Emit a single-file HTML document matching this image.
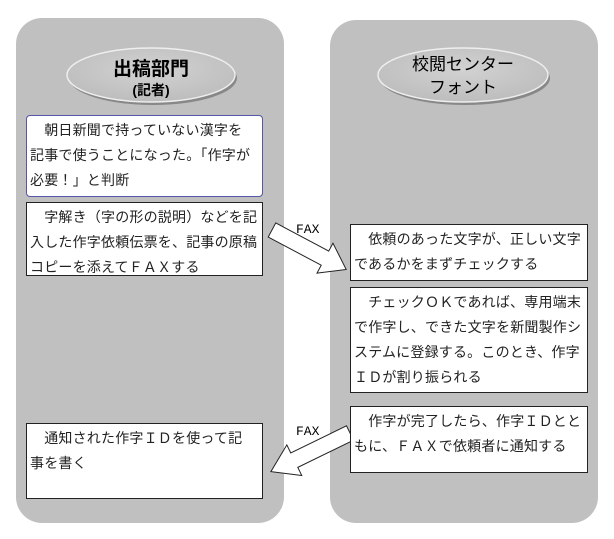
<!DOCTYPE html>
<html><head><meta charset="utf-8"><style>
body{margin:0;width:614px;height:539px;background:#fff;position:relative;overflow:hidden;font-family:"Liberation Sans","Noto Sans CJK JP",sans-serif;}
.panel{position:absolute;background:#c0c0c0;border-radius:26px;}
.box{position:absolute;background:#fff;border:1px solid #222;box-sizing:border-box;font-size:14px;line-height:25px;padding:2px 2px 2px 3px;color:#222;letter-spacing:0.2px;white-space:nowrap;}
.box p{margin:0;}
svg{position:absolute;left:0;top:0;}
</style></head><body>
<div class="panel" style="left:16px;top:18px;width:268px;height:505px"></div>
<div class="panel" style="left:330px;top:20px;width:268px;height:503px"></div>
<svg width="614" height="539">
<defs><radialGradient id="g" cx="50%" cy="40%" r="60%"><stop offset="0" stop-color="#d2d2d2"/><stop offset="1" stop-color="#bdbdbd"/></radialGradient></defs>
<ellipse cx="153" cy="78" rx="84" ry="27" fill="#888"/>
<ellipse cx="151" cy="75" rx="84" ry="27" fill="url(#g)" stroke="#eee" stroke-width="1.5"/>
<text x="151" y="75" text-anchor="middle" font-size="19" font-weight="bold" font-family="Liberation Sans,Noto Sans CJK JP,sans-serif">出稿部門</text>
<text x="151" y="95" text-anchor="middle" font-size="14" font-weight="bold" font-family="Liberation Sans,Noto Sans CJK JP,sans-serif">(記者)</text>
<ellipse cx="465" cy="78" rx="85" ry="27" fill="#888"/>
<ellipse cx="463" cy="75" rx="85" ry="27" fill="url(#g)" stroke="#eee" stroke-width="1.5"/>
<text x="463" y="70" text-anchor="middle" font-size="17" font-family="Liberation Sans,Noto Sans CJK JP,sans-serif">校閲センター</text>
<text x="463" y="93" text-anchor="middle" font-size="17" font-family="Liberation Sans,Noto Sans CJK JP,sans-serif">フォント</text>
<g transform="translate(272,230) rotate(28)">
<polygon points="0,-8 60,-8 60,-17 84,0 60,17 60,8 0,8" fill="#fff" stroke="#222" stroke-width="1"/>
</g>
<g transform="translate(350,433) rotate(154)">
<polygon points="0,-8 62,-8 62,-17 88,0 62,17 62,8 0,8" fill="#fff" stroke="#222" stroke-width="1"/>
</g>
<text x="296" y="233" font-size="13" font-family="Liberation Mono,monospace">FAX</text>
<text x="296" y="435" font-size="13" font-family="Liberation Mono,monospace">FAX</text>
</svg>
<div class="box" style="left:26px;top:115px;width:237px;height:82px;border:1.5px solid #5555aa;border-radius:4px"><p>　朝日新聞で持っていない漢字を<br>記事で使うことになった。「作字が<br>必要！」と判断</p></div>
<div class="box" style="left:26px;top:202px;width:237px;height:74px"><p>　字解き（字の形の説明）などを記<br>入した作字依頼伝票を、記事の原稿<br>コピーを添えてＦＡＸする</p></div>
<div class="box" style="left:350px;top:224px;width:238px;height:57px"><p>　依頼のあった文字が、正しい文字<br>であるかをまずチェックする</p></div>
<div class="box" style="left:350px;top:287px;width:238px;height:106px"><p>　チェックＯＫであれば、専用端末<br>で作字し、できた文字を新聞製作シ<br>ステムに登録する。このとき、作字<br>ＩＤが割り振られる</p></div>
<div class="box" style="left:350px;top:406px;width:238px;height:67px"><p>　作字が完了したら、作字ＩＤとと<br>もに、ＦＡＸで依頼者に通知する</p></div>
<div class="box" style="left:26px;top:423px;width:237px;height:76px"><p>　通知された作字ＩＤを使って記<br>事を書く</p></div>
</body></html>
